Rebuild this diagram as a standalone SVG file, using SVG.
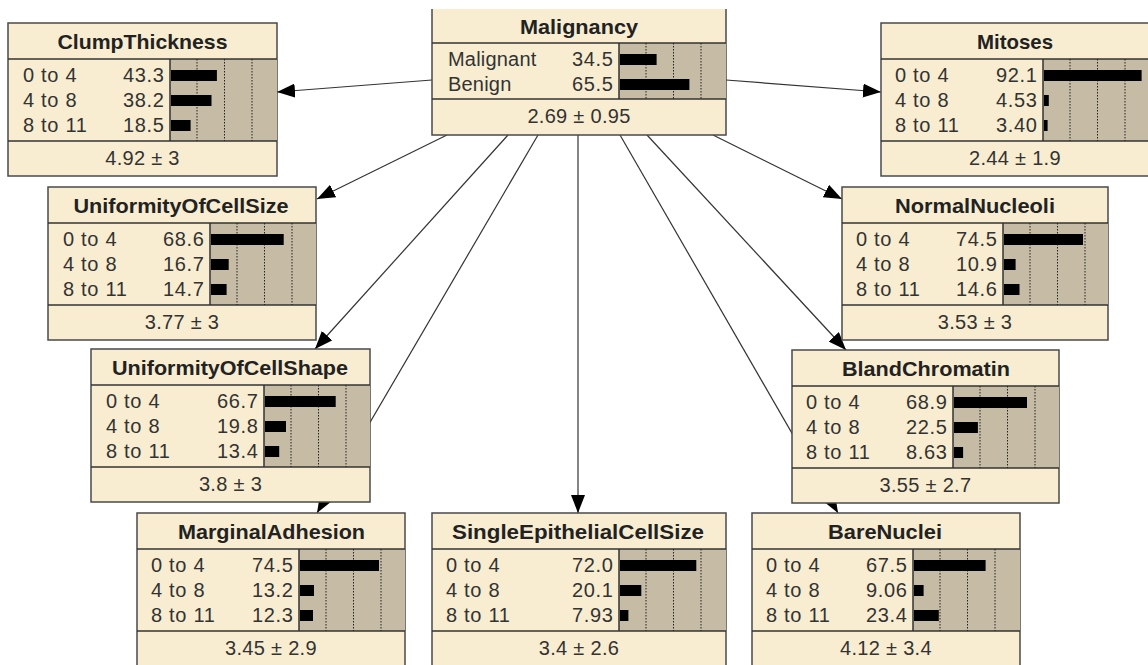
<svg xmlns="http://www.w3.org/2000/svg" width="1148" height="665" viewBox="0 0 1148 665">
<style>
.box{fill:#F8EDD1;stroke:#4a4a4a;stroke-width:1.5}
.chart{fill:#C6BCA5}
.div{stroke:#333;stroke-width:1.5}
.dot{stroke:#222;stroke-width:1;stroke-dasharray:1.5 1.5}
.bar{fill:#000}
.title{font-family:"Liberation Sans",Arial,sans-serif;font-weight:bold;font-size:21px;fill:#222;text-anchor:middle}
.lbl{font-family:"Liberation Sans",Arial,sans-serif;font-size:20px;fill:#333;letter-spacing:0.7px}
.val{font-family:"Liberation Sans",Arial,sans-serif;font-size:20px;fill:#333;text-anchor:end;letter-spacing:0.7px}
.foot{font-family:"Liberation Sans",Arial,sans-serif;font-size:20px;fill:#333;text-anchor:middle;letter-spacing:0.3px}
.edge{stroke:#333;stroke-width:1.2;fill:none;marker-end:url(#ah)}
</style>
<defs>
<marker id="ah" markerUnits="userSpaceOnUse" markerWidth="19" markerHeight="14" refX="18" refY="7" orient="auto">
<path d="M0,0 L18,7 L0,14 z" fill="#000"/>
</marker>
</defs>
<rect width="1148" height="665" fill="#fff"/>
<g id="connectors">
<line class="edge" x1="432" y1="80" x2="277" y2="92"/>
<line class="edge" x1="726" y1="80" x2="881" y2="92"/>
<line class="edge" x1="447" y1="135" x2="317" y2="199"/>
<line class="edge" x1="508" y1="135" x2="315" y2="349"/>
<line class="edge" x1="538" y1="135" x2="317" y2="513"/>
<line class="edge" x1="578" y1="135" x2="578" y2="513"/>
<line class="edge" x1="620" y1="135" x2="838" y2="513"/>
<line class="edge" x1="647" y1="135" x2="846" y2="350"/>
<line class="edge" x1="713" y1="135" x2="842" y2="199"/>
</g>

<g id="Malignancy">
<rect x="432" y="9" width="294" height="126" fill="#F8EDD1"/>
<path d="M432,9 V135 H726 V9" fill="none" stroke="#4a4a4a" stroke-width="1.5"/>
<rect class="chart" x="619" y="43" width="107" height="56"/>
<line class="div" x1="619" y1="43" x2="619" y2="99"/>
<line class="div" x1="432" y1="43" x2="726" y2="43"/>
<line class="div" x1="432" y1="99" x2="726" y2="99"/>
<line class="dot" x1="646" y1="43" x2="646" y2="99"/>
<line class="dot" x1="673.5" y1="43" x2="673.5" y2="99"/>
<line class="dot" x1="701" y1="43" x2="701" y2="99"/>
<rect class="bar" x="620" y="54" width="36.6" height="11"/>
<rect class="bar" x="620" y="79" width="69.4" height="11"/>
<text class="title" x="579" y="34" textLength="118" lengthAdjust="spacingAndGlyphs">Malignancy</text>
<text class="lbl" x="448" y="66" style="letter-spacing:0.2px">Malignant</text>
<text class="lbl" x="448" y="91" style="letter-spacing:0.2px">Benign</text>
<text class="val" x="613.7" y="66">34.5</text>
<text class="val" x="613.7" y="91">65.5</text>
<text class="foot" x="579" y="123">2.69 ± 0.95</text>
</g>

<g id="ClumpThickness">
<rect class="box" x="8" y="23" width="269" height="153"/>
<rect class="chart" x="170" y="59" width="107" height="82"/>
<line class="div" x1="170" y1="59" x2="170" y2="141"/>
<line class="div" x1="8" y1="59" x2="277" y2="59"/>
<line class="div" x1="8" y1="141" x2="277" y2="141"/>
<line class="dot" x1="197" y1="59" x2="197" y2="141"/>
<line class="dot" x1="224.5" y1="59" x2="224.5" y2="141"/>
<line class="dot" x1="252" y1="59" x2="252" y2="141"/>
<rect class="bar" x="171" y="70" width="45.9" height="11"/>
<rect class="bar" x="171" y="95" width="40.5" height="11"/>
<rect class="bar" x="171" y="120" width="19.6" height="11"/>
<text class="title" x="142.5" y="49" textLength="170" lengthAdjust="spacingAndGlyphs">ClumpThickness</text>
<text class="lbl" x="23" y="82">0 to 4</text>
<text class="lbl" x="23" y="107">4 to 8</text>
<text class="lbl" x="23" y="132">8 to 11</text>
<text class="val" x="164.7" y="82">43.3</text>
<text class="val" x="164.7" y="107">38.2</text>
<text class="val" x="164.7" y="132">18.5</text>
<text class="foot" x="142.5" y="165">4.92 ± 3</text>
</g>

<g id="Mitoses">
<rect class="box" x="881" y="23" width="268" height="153"/>
<rect class="chart" x="1043" y="59" width="106" height="82"/>
<line class="div" x1="1043" y1="59" x2="1043" y2="141"/>
<line class="div" x1="881" y1="59" x2="1149" y2="59"/>
<line class="div" x1="881" y1="141" x2="1149" y2="141"/>
<line class="dot" x1="1070" y1="59" x2="1070" y2="141"/>
<line class="dot" x1="1097.5" y1="59" x2="1097.5" y2="141"/>
<line class="dot" x1="1125" y1="59" x2="1125" y2="141"/>
<rect class="bar" x="1044" y="70" width="97.6" height="11"/>
<rect class="bar" x="1044" y="95" width="4.8" height="11"/>
<rect class="bar" x="1044" y="120" width="3.6" height="11"/>
<text class="title" x="1015" y="49" textLength="76" lengthAdjust="spacingAndGlyphs">Mitoses</text>
<text class="lbl" x="895" y="82">0 to 4</text>
<text class="lbl" x="895" y="107">4 to 8</text>
<text class="lbl" x="895" y="132">8 to 11</text>
<text class="val" x="1037.7" y="82">92.1</text>
<text class="val" x="1037.7" y="107">4.53</text>
<text class="val" x="1037.7" y="132">3.40</text>
<text class="foot" x="1015" y="165">2.44 ± 1.9</text>
</g>

<g id="UniformityOfCellSize">
<rect class="box" x="48" y="187" width="268" height="153"/>
<rect class="chart" x="210" y="223" width="106" height="82"/>
<line class="div" x1="210" y1="223" x2="210" y2="305"/>
<line class="div" x1="48" y1="223" x2="316" y2="223"/>
<line class="div" x1="48" y1="305" x2="316" y2="305"/>
<line class="dot" x1="237" y1="223" x2="237" y2="305"/>
<line class="dot" x1="264.5" y1="223" x2="264.5" y2="305"/>
<line class="dot" x1="292" y1="223" x2="292" y2="305"/>
<rect class="bar" x="211" y="234" width="72.7" height="11"/>
<rect class="bar" x="211" y="259" width="17.7" height="11"/>
<rect class="bar" x="211" y="284" width="15.6" height="11"/>
<text class="title" x="181" y="213" textLength="215" lengthAdjust="spacingAndGlyphs">UniformityOfCellSize</text>
<text class="lbl" x="63" y="246">0 to 4</text>
<text class="lbl" x="63" y="271">4 to 8</text>
<text class="lbl" x="63" y="296">8 to 11</text>
<text class="val" x="204.7" y="246">68.6</text>
<text class="val" x="204.7" y="271">16.7</text>
<text class="val" x="204.7" y="296">14.7</text>
<text class="foot" x="182" y="329">3.77 ± 3</text>
</g>

<g id="NormalNucleoli">
<rect class="box" x="842" y="187" width="266" height="153"/>
<rect class="chart" x="1003" y="223" width="105" height="82"/>
<line class="div" x1="1003" y1="223" x2="1003" y2="305"/>
<line class="div" x1="842" y1="223" x2="1108" y2="223"/>
<line class="div" x1="842" y1="305" x2="1108" y2="305"/>
<line class="dot" x1="1030" y1="223" x2="1030" y2="305"/>
<line class="dot" x1="1057.5" y1="223" x2="1057.5" y2="305"/>
<line class="dot" x1="1085" y1="223" x2="1085" y2="305"/>
<rect class="bar" x="1004" y="234" width="79.0" height="11"/>
<rect class="bar" x="1004" y="259" width="11.6" height="11"/>
<rect class="bar" x="1004" y="284" width="15.5" height="11"/>
<text class="title" x="975" y="213" textLength="160" lengthAdjust="spacingAndGlyphs">NormalNucleoli</text>
<text class="lbl" x="856" y="246">0 to 4</text>
<text class="lbl" x="856" y="271">4 to 8</text>
<text class="lbl" x="856" y="296">8 to 11</text>
<text class="val" x="997.7" y="246">74.5</text>
<text class="val" x="997.7" y="271">10.9</text>
<text class="val" x="997.7" y="296">14.6</text>
<text class="foot" x="975" y="329">3.53 ± 3</text>
</g>

<g id="UniformityOfCellShape">
<rect class="box" x="91" y="349" width="279" height="153"/>
<rect class="chart" x="264" y="385" width="106" height="82"/>
<line class="div" x1="264" y1="385" x2="264" y2="467"/>
<line class="div" x1="91" y1="385" x2="370" y2="385"/>
<line class="div" x1="91" y1="467" x2="370" y2="467"/>
<line class="dot" x1="291" y1="385" x2="291" y2="467"/>
<line class="dot" x1="318.5" y1="385" x2="318.5" y2="467"/>
<line class="dot" x1="346" y1="385" x2="346" y2="467"/>
<rect class="bar" x="265" y="396" width="70.7" height="11"/>
<rect class="bar" x="265" y="421" width="21.0" height="11"/>
<rect class="bar" x="265" y="446" width="14.2" height="11"/>
<text class="title" x="230" y="375" textLength="236" lengthAdjust="spacingAndGlyphs">UniformityOfCellShape</text>
<text class="lbl" x="106" y="408">0 to 4</text>
<text class="lbl" x="106" y="433">4 to 8</text>
<text class="lbl" x="106" y="458">8 to 11</text>
<text class="val" x="258.7" y="408">66.7</text>
<text class="val" x="258.7" y="433">19.8</text>
<text class="val" x="258.7" y="458">13.4</text>
<text class="foot" x="230.5" y="491">3.8 ± 3</text>
</g>

<g id="BlandChromatin">
<rect class="box" x="792" y="350" width="267" height="153"/>
<rect class="chart" x="953" y="386" width="106" height="82"/>
<line class="div" x1="953" y1="386" x2="953" y2="468"/>
<line class="div" x1="792" y1="386" x2="1059" y2="386"/>
<line class="div" x1="792" y1="468" x2="1059" y2="468"/>
<line class="dot" x1="980" y1="386" x2="980" y2="468"/>
<line class="dot" x1="1007.5" y1="386" x2="1007.5" y2="468"/>
<line class="dot" x1="1035" y1="386" x2="1035" y2="468"/>
<rect class="bar" x="954" y="397" width="73.0" height="11"/>
<rect class="bar" x="954" y="422" width="23.9" height="11"/>
<rect class="bar" x="954" y="447" width="9.1" height="11"/>
<text class="title" x="926" y="376" textLength="168" lengthAdjust="spacingAndGlyphs">BlandChromatin</text>
<text class="lbl" x="806" y="409">0 to 4</text>
<text class="lbl" x="806" y="434">4 to 8</text>
<text class="lbl" x="806" y="459">8 to 11</text>
<text class="val" x="947.7" y="409">68.9</text>
<text class="val" x="947.7" y="434">22.5</text>
<text class="val" x="947.7" y="459">8.63</text>
<text class="foot" x="925.5" y="492">3.55 ± 2.7</text>
</g>

<g id="MarginalAdhesion">
<rect class="box" x="137" y="513" width="268" height="160"/>
<rect class="chart" x="299" y="549" width="106" height="82"/>
<line class="div" x1="299" y1="549" x2="299" y2="631"/>
<line class="div" x1="137" y1="549" x2="405" y2="549"/>
<line class="div" x1="137" y1="631" x2="405" y2="631"/>
<line class="dot" x1="326" y1="549" x2="326" y2="631"/>
<line class="dot" x1="353.5" y1="549" x2="353.5" y2="631"/>
<line class="dot" x1="381" y1="549" x2="381" y2="631"/>
<rect class="bar" x="300" y="560" width="79.0" height="11"/>
<rect class="bar" x="300" y="585" width="14.0" height="11"/>
<rect class="bar" x="300" y="610" width="13.0" height="11"/>
<text class="title" x="271.5" y="539" textLength="187" lengthAdjust="spacingAndGlyphs">MarginalAdhesion</text>
<text class="lbl" x="151" y="572">0 to 4</text>
<text class="lbl" x="151" y="597">4 to 8</text>
<text class="lbl" x="151" y="622">8 to 11</text>
<text class="val" x="293.7" y="572">74.5</text>
<text class="val" x="293.7" y="597">13.2</text>
<text class="val" x="293.7" y="622">12.3</text>
<text class="foot" x="271" y="655">3.45 ± 2.9</text>
</g>

<g id="SingleEpithelialCellSize">
<rect class="box" x="432" y="513" width="294" height="160"/>
<rect class="chart" x="619" y="549" width="107" height="82"/>
<line class="div" x1="619" y1="549" x2="619" y2="631"/>
<line class="div" x1="432" y1="549" x2="726" y2="549"/>
<line class="div" x1="432" y1="631" x2="726" y2="631"/>
<line class="dot" x1="646" y1="549" x2="646" y2="631"/>
<line class="dot" x1="673.5" y1="549" x2="673.5" y2="631"/>
<line class="dot" x1="701" y1="549" x2="701" y2="631"/>
<rect class="bar" x="620" y="560" width="76.3" height="11"/>
<rect class="bar" x="620" y="585" width="21.3" height="11"/>
<rect class="bar" x="620" y="610" width="8.4" height="11"/>
<text class="title" x="578" y="539" textLength="252" lengthAdjust="spacingAndGlyphs">SingleEpithelialCellSize</text>
<text class="lbl" x="446" y="572">0 to 4</text>
<text class="lbl" x="446" y="597">4 to 8</text>
<text class="lbl" x="446" y="622">8 to 11</text>
<text class="val" x="613.7" y="572">72.0</text>
<text class="val" x="613.7" y="597">20.1</text>
<text class="val" x="613.7" y="622">7.93</text>
<text class="foot" x="579" y="655">3.4 ± 2.6</text>
</g>

<g id="BareNuclei">
<rect class="box" x="752" y="513" width="268" height="160"/>
<rect class="chart" x="913" y="549" width="107" height="82"/>
<line class="div" x1="913" y1="549" x2="913" y2="631"/>
<line class="div" x1="752" y1="549" x2="1020" y2="549"/>
<line class="div" x1="752" y1="631" x2="1020" y2="631"/>
<line class="dot" x1="940" y1="549" x2="940" y2="631"/>
<line class="dot" x1="967.5" y1="549" x2="967.5" y2="631"/>
<line class="dot" x1="995" y1="549" x2="995" y2="631"/>
<rect class="bar" x="914" y="560" width="71.6" height="11"/>
<rect class="bar" x="914" y="585" width="9.6" height="11"/>
<rect class="bar" x="914" y="610" width="24.8" height="11"/>
<text class="title" x="885" y="539" textLength="114" lengthAdjust="spacingAndGlyphs">BareNuclei</text>
<text class="lbl" x="766" y="572">0 to 4</text>
<text class="lbl" x="766" y="597">4 to 8</text>
<text class="lbl" x="766" y="622">8 to 11</text>
<text class="val" x="907.7" y="572">67.5</text>
<text class="val" x="907.7" y="597">9.06</text>
<text class="val" x="907.7" y="622">23.4</text>
<text class="foot" x="886" y="655">4.12 ± 3.4</text>
</g>
</svg>
